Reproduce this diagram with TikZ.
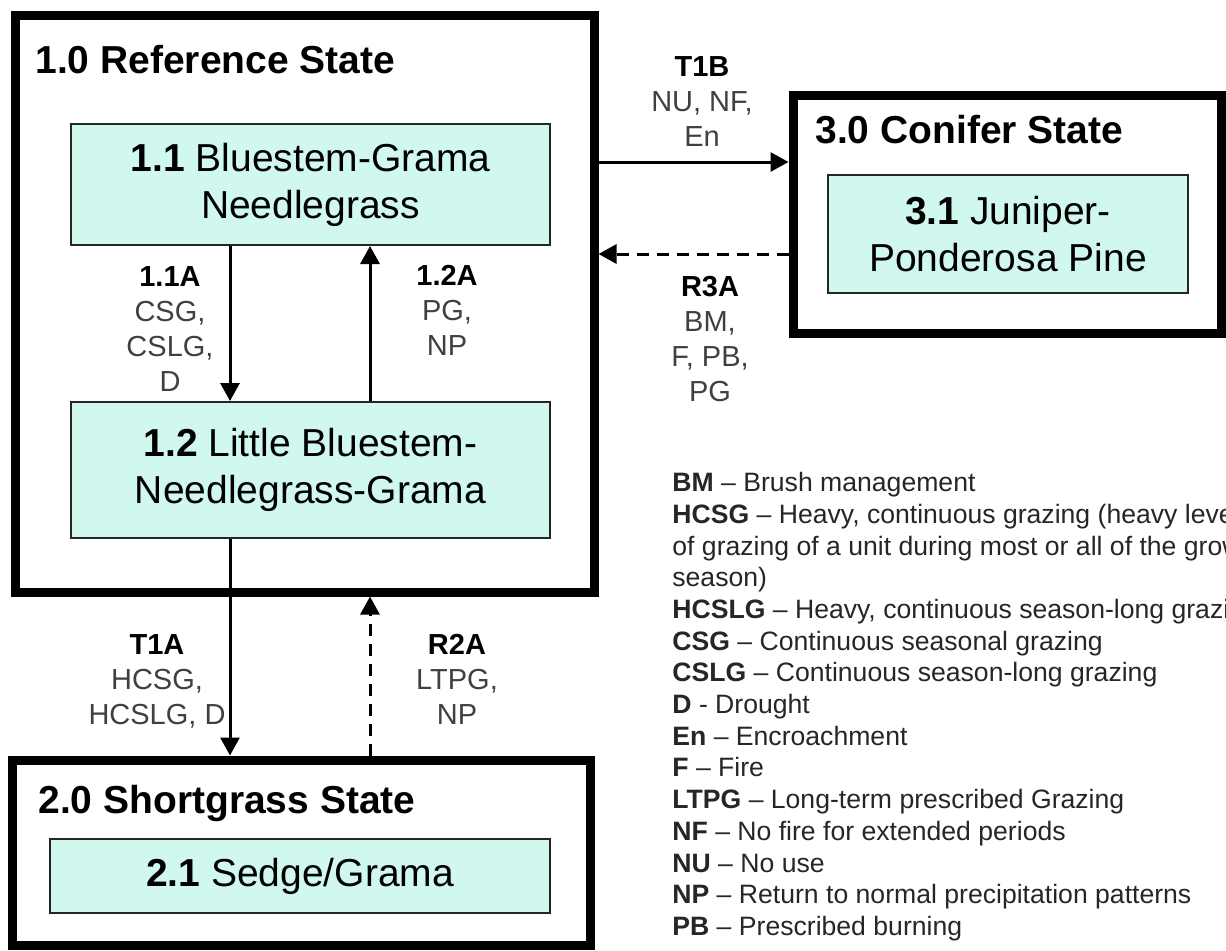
\documentclass[tikz,border=0pt]{standalone}
\usepackage{fontspec}
\setmainfont{Liberation Sans}
\usetikzlibrary{arrows.meta}
\definecolor{phasefill}{RGB}{208,248,239}

\begin{document}
\begin{tikzpicture}[x=0.5pt,y=-0.5pt,
  statebox/.style={draw,line width=4.5pt,inner sep=0pt},
  phasebox/.style={draw=black!85,fill=phasefill,line width=1pt,align=center,inner sep=0pt,font=\fontsize{19.5}{23.5}\selectfont},
  statename/.style={anchor=base west,inner sep=0pt,font=\fontsize{19.5}{23.5}\selectfont\bfseries},
  arr/.style={line width=1.5pt,-{Triangle[length=9pt,width=9.5pt]}},
  back/.style={arr,dash pattern=on 6pt off 4pt},
  lab/.style={align=center,inner sep=0pt,text=black!75,font=\fontsize{14.5}{17.5}\selectfont},
  legend/.style={align=left,inner sep=0pt,text=black!85,font=\fontsize{13.3}{15.85}\selectfont}]
\useasboundingbox (0,0) rectangle (1226,950);
\clip (0,0) rectangle (1226,950);
\node[statebox,minimum width=289.5pt,minimum height=288.5pt] (ref) at (304.5,303.5) {};
\node[statebox,minimum width=289pt,minimum height=92.5pt] (short) at (301,852.5) {};
\node[statebox,minimum width=214pt,minimum height=119pt] (con) at (1007,214) {};
\node[statename] (refname) at (35,73) {1.0 Reference State};
\node[statename] (shortname) at (38,813) {2.0 Shortgrass State};
\node[statename] (conname) at (815,143) {3.0 Conifer State};
\node[phasebox,minimum width=239.5pt,minimum height=60.5pt] (p11) at (310.5,184.5) {\textbf{1.1} Bluestem-Grama\\Needlegrass};
\node[phasebox,minimum width=239.5pt,minimum height=68pt] (p12) at (310.5,470) {\textbf{1.2} Little Bluestem-\\Needlegrass-Grama};
\node[phasebox,minimum width=250pt,minimum height=37pt] (p21) at (300,876) {\textbf{2.1} Sedge/Grama};
\node[phasebox,minimum width=180pt,minimum height=59pt] (p31) at (1008,234) {\textbf{3.1} Juniper-\\Ponderosa Pine};
\draw[arr] (p11.south -| 230,0) -- (p12.north -| 230,0);
\draw[arr] (p12.north -| 370,0) -- (p11.south -| 370,0);
\draw[arr] (p12.south -| 230,0) -- (short.north -| 230,0);
\draw[back] (short.north -| 370,0) -- (ref.south -| 370,0);
\draw[arr] (ref.east |- 0,162) -- (con.west |- 0,162);
\draw[back] (con.west |- 0,254) -- (ref.east |- 0,254);
\node[lab] (l11a) at (170,329) {\textcolor{black}{\textbf{1.1A}}\\CSG,\\CSLG,\\D};
\node[lab] (l12a) at (447,310) {\textcolor{black}{\textbf{1.2A}}\\PG,\\NP};
\node[lab] (lt1a) at (157,681) {\textcolor{black}{\textbf{T1A}}\\HCSG,\\HCSLG, D};
\node[lab] (lr2a) at (457,679) {\textcolor{black}{\textbf{R2A}}\\LTPG,\\NP};
\node[lab] (lt1b) at (702,102) {\textcolor{black}{\textbf{T1B}}\\NU, NF,\\En};
\node[lab] (lr3a) at (710,339) {\textcolor{black}{\textbf{R3A}}\\BM,\\F, PB,\\PG};
\node[legend,anchor=north west] (key) at (672,472) {\textbf{BM} – Brush management\\
\textbf{HCSG} – Heavy, continuous grazing (heavy levels\\
of grazing of a unit during most or all of the growing\\
season)\\
\textbf{HCSLG} – Heavy, continuous season-long grazing\\
\textbf{CSG} – Continuous seasonal grazing\\
\textbf{CSLG} – Continuous season-long grazing\\
\textbf{D} - Drought\\
\textbf{En} – Encroachment\\
\textbf{F} – Fire\\
\textbf{LTPG} – Long-term prescribed Grazing\\
\textbf{NF} – No fire for extended periods\\
\textbf{NU} – No use\\
\textbf{NP} – Return to normal precipitation patterns\\
\textbf{PB} – Prescribed burning};
\end{tikzpicture}
\end{document}
